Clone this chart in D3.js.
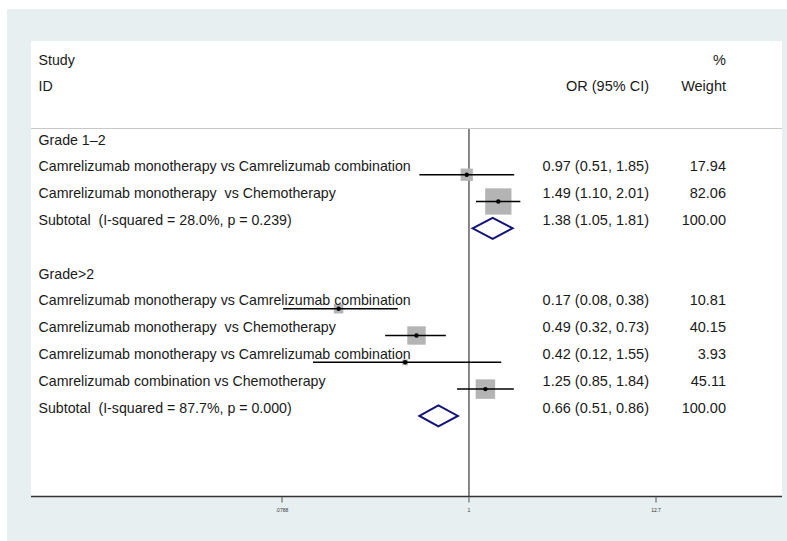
<!DOCTYPE html>
<html>
<head>
<meta charset="utf-8">
<script src="https://cdn.jsdelivr.net/npm/d3@7/dist/d3.min.js"></script>
<style>
  html, body { margin: 0; padding: 0; background: #ffffff; }
  svg { display: block; }
  text { font-family: "Liberation Sans", Arial, sans-serif; white-space: pre; }
</style>
</head>
<body>
<svg id="chart" width="787" height="541"></svg>
<script>
// ---- data ----
const groupNames = ["Grade 1\u20132", "Grade>2"];
const subtotalLabels = [
  "Subtotal  (I-squared = 28.0%, p = 0.239)",
  "Subtotal  (I-squared = 87.7%, p = 0.000)"
];
const studyGroup = [0, 0, 1, 1, 1, 1];
const studyLabels = [
  "Camrelizumab monotherapy vs Camrelizumab combination",
  "Camrelizumab monotherapy  vs Chemotherapy",
  "Camrelizumab monotherapy vs Camrelizumab combination",
  "Camrelizumab monotherapy  vs Chemotherapy",
  "Camrelizumab monotherapy vs Camrelizumab combination",
  "Camrelizumab combination vs Chemotherapy"
];
const studyOR = [0.97, 1.49, 0.17, 0.49, 0.42, 1.25];
const studyLow = [0.51, 1.10, 0.08, 0.32, 0.12, 0.85];
const studyHigh = [1.85, 2.01, 0.38, 0.73, 1.55, 1.84];
const studyWeight = [17.94, 82.06, 10.81, 40.15, 3.93, 45.11];
const subtotalOR = [1.38, 0.66];
const subtotalLow = [1.05, 0.51];
const subtotalHigh = [1.81, 0.86];
const subtotalWeight = [100.00, 100.00];
const tickValues = [0.0788, 1, 12.7];
const tickLabels = [".0788", "1", "12.7"];

// ---- layout ----
const svg = d3.select("#chart");
const labelFont = 14.2;
const numFont = 14.5;
const labelX = 38.5;
const ciRight = 649;
const weightRight = 726;
const axisY = 496.5;
const firstRowY = 144.5;   // baseline of first group heading
const rowStep = 26.8;
const markOffset = 3.4;    // marks sit a little below the text baseline

const x = d3.scaleLog().domain([tickValues[0], tickValues[2]]).range([282, 656]);

// background panels
svg.append("rect").attr("x", 7).attr("y", 9).attr("width", 780).attr("height", 532).attr("fill", "#e8eff1");
svg.append("rect").attr("x", 31).attr("y", 41).attr("width", 751).attr("height", axisY - 41).attr("fill", "#ffffff");

function txt(s, xx, yy, anchor, size) {
  return svg.append("text")
    .attr("x", xx).attr("y", yy)
    .attr("font-size", size || numFont)
    .attr("fill", "#1a1a1a")
    .attr("text-anchor", anchor || "start")
    .text(s);
}

// header
txt("Study", labelX, 65, "start", labelFont);
txt("ID", labelX, 91, "start", labelFont);
txt("OR (95% CI)", ciRight, 91, "end");
txt("%", weightRight, 65, "end");
txt("Weight", weightRight, 91, "end");

svg.append("line").attr("x1", 31).attr("x2", 782).attr("y1", 128.5).attr("y2", 128.5)
  .attr("stroke", "#c8c8c8").attr("stroke-width", 1);

// null line at OR = 1
svg.append("line").attr("x1", x(1)).attr("x2", x(1)).attr("y1", 129).attr("y2", axisY)
  .attr("stroke", "#111").attr("stroke-width", 1);

const fmt = v => v.toFixed(2);
const marks = svg.append("g");

let row = 0;
groupNames.forEach((g, gi) => {
  const gy = firstRowY + row * rowStep;
  txt(g, labelX, gy, "start", labelFont);
  row++;
  studyLabels.forEach((lab, i) => {
    if (studyGroup[i] !== gi) return;
    const y = firstRowY + row * rowStep;
    const my = y + markOffset;
    const side = 2.9 * Math.sqrt(studyWeight[i]);
    marks.append("rect")
      .attr("x", x(studyOR[i]) - side / 2).attr("y", my - side / 2)
      .attr("width", side).attr("height", side)
      .attr("fill", "#b4b4b4");
    marks.append("line")
      .attr("x1", x(studyLow[i])).attr("x2", x(studyHigh[i]))
      .attr("y1", my).attr("y2", my)
      .attr("stroke", "#000").attr("stroke-width", 1.5);
    marks.append("circle")
      .attr("cx", x(studyOR[i])).attr("cy", my).attr("r", 2.2)
      .attr("fill", "#000");
    txt(lab, labelX, y, "start", labelFont);
    txt(`${fmt(studyOR[i])} (${fmt(studyLow[i])}, ${fmt(studyHigh[i])})`, ciRight, y, "end");
    txt(fmt(studyWeight[i]), weightRight, y, "end");
    row++;
  });
  const sy = firstRowY + row * rowStep;
  const dy = sy + markOffset;
  const h = 10.5;
  marks.append("polygon")
    .attr("points", [
      [x(subtotalLow[gi]), dy],
      [x(subtotalOR[gi]), dy - h],
      [x(subtotalHigh[gi]), dy],
      [x(subtotalOR[gi]), dy + h]
    ].map(p => p.join(",")).join(" "))
    .attr("fill", "none").attr("stroke", "#141478").attr("stroke-width", 2);
  txt(subtotalLabels[gi], labelX, sy, "start", labelFont);
  txt(`${fmt(subtotalOR[gi])} (${fmt(subtotalLow[gi])}, ${fmt(subtotalHigh[gi])})`, ciRight, sy, "end");
  txt(fmt(subtotalWeight[gi]), weightRight, sy, "end");
  row += 2; // blank row between groups
});

// x axis
const axisG = svg.append("g").attr("transform", `translate(0,${axisY})`);
axisG.append("line").attr("x1", 31).attr("x2", 782).attr("y1", 0).attr("y2", 0)
  .attr("stroke", "#333").attr("stroke-width", 1.6);
tickValues.forEach((t, i) => {
  axisG.append("line").attr("x1", x(t)).attr("x2", x(t)).attr("y1", 0).attr("y2", 6)
    .attr("stroke", "#555").attr("stroke-width", 1);
  axisG.append("text").attr("x", x(t)).attr("y", 15)
    .attr("font-size", 5).attr("fill", "#333").attr("text-anchor", "middle")
    .text(tickLabels[i]);
});
</script>
</body>
</html>
